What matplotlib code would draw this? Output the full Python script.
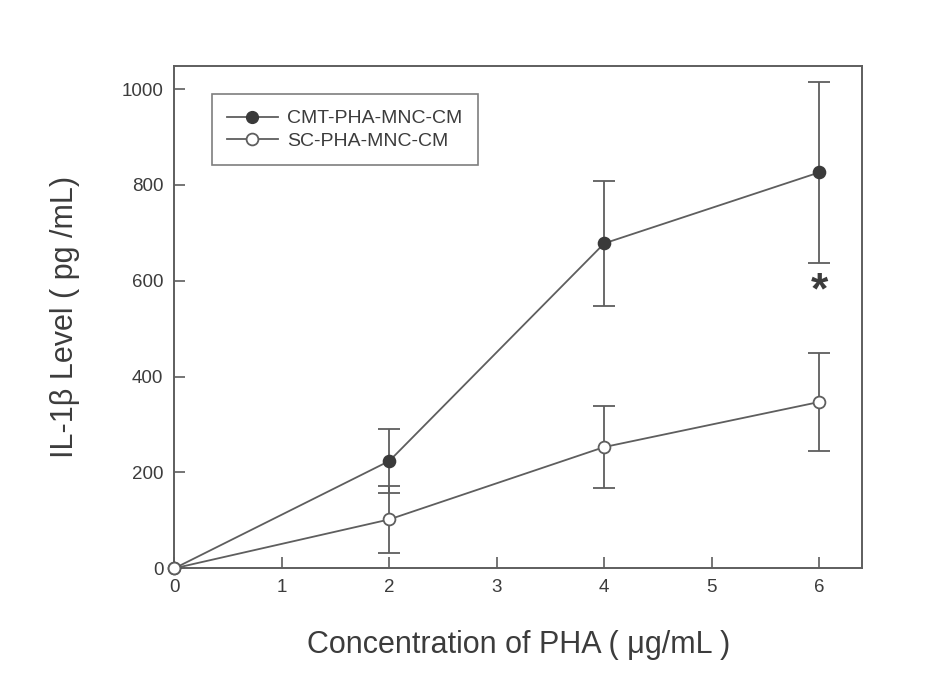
import matplotlib
matplotlib.use("Agg")
import matplotlib.pyplot as plt
from matplotlib.lines import Line2D

# data
conc = [0, 2, 4, 6]
cmt_mean = [0, 224, 678, 826]
cmt_err = [0, 67, 130, 189]
sc_mean = [0, 102, 253, 347]
sc_err = [0, 70, 86, 103]

x_ticks = [0, 1, 2, 3, 4, 5, 6]
y_ticks = [0, 200, 400, 600, 800, 1000]
series_names = ["CMT-PHA-MNC-CM", "SC-PHA-MNC-CM"]

plt.rcParams["font.family"] = ["Liberation Sans", "DejaVu Sans"]
line_col = "#5e5e5e"
text_col = "#3c3c3c"

fig = plt.figure(figsize=(9.28, 6.88), dpi=100)
ax = fig.add_axes([0.188, 0.174, 0.741, 0.730])

for mean, err, face in [(cmt_mean, cmt_err, "#3a3a3a"),
                        (sc_mean, sc_err, "white")]:
    artists = ax.errorbar(conc, mean, yerr=err, color=line_col, lw=1.3,
                          marker="o", ms=8.5, mfc=face,
                          mec="#3a3a3a" if face != "white" else line_col,
                          mew=1.3, capsize=8, capthick=1.3, elinewidth=1.3,
                          zorder=3)
    artists[0].set_clip_on(False)

ax.text(6, 577, "*", ha="center", va="center", fontsize=32,
        fontweight="bold", color=text_col)

ax.set_xlim(0, 6.4)
ax.set_ylim(0, 1048)
ax.set_xticks(x_ticks)
ax.set_yticks(y_ticks)
ax.tick_params(direction="in", length=8, width=1.2, colors=line_col,
               labelcolor=text_col, labelsize=13.5, pad=8)
for s in ax.spines.values():
    s.set_color(line_col)
    s.set_linewidth(1.4)

ax.set_xlabel("Concentration of PHA ( \u03bcg/mL )", fontsize=22,
              color=text_col, labelpad=24)
ax.set_ylabel("IL-1\u03b2 Level ( pg /mL)", fontsize=22,
              color=text_col, labelpad=30)

handles = [
    Line2D([], [], color=line_col, lw=1.3, marker="o", ms=8.5,
           mfc="#3a3a3a", mec="#3a3a3a"),
    Line2D([], [], color=line_col, lw=1.3, marker="o", ms=8.5,
           mfc="white", mec=line_col, mew=1.3),
]
leg = ax.legend(handles, series_names, loc="upper left",
                bbox_to_anchor=(0.054, 0.944), fontsize=14, frameon=True,
                fancybox=False, edgecolor=line_col, borderpad=0.8,
                labelspacing=0.25, handlelength=2.6, handletextpad=0.5,
                borderaxespad=0)
leg.get_frame().set_linewidth(1.2)
for t in leg.get_texts():
    t.set_color(text_col)

fig.savefig("out.png", dpi=100)
